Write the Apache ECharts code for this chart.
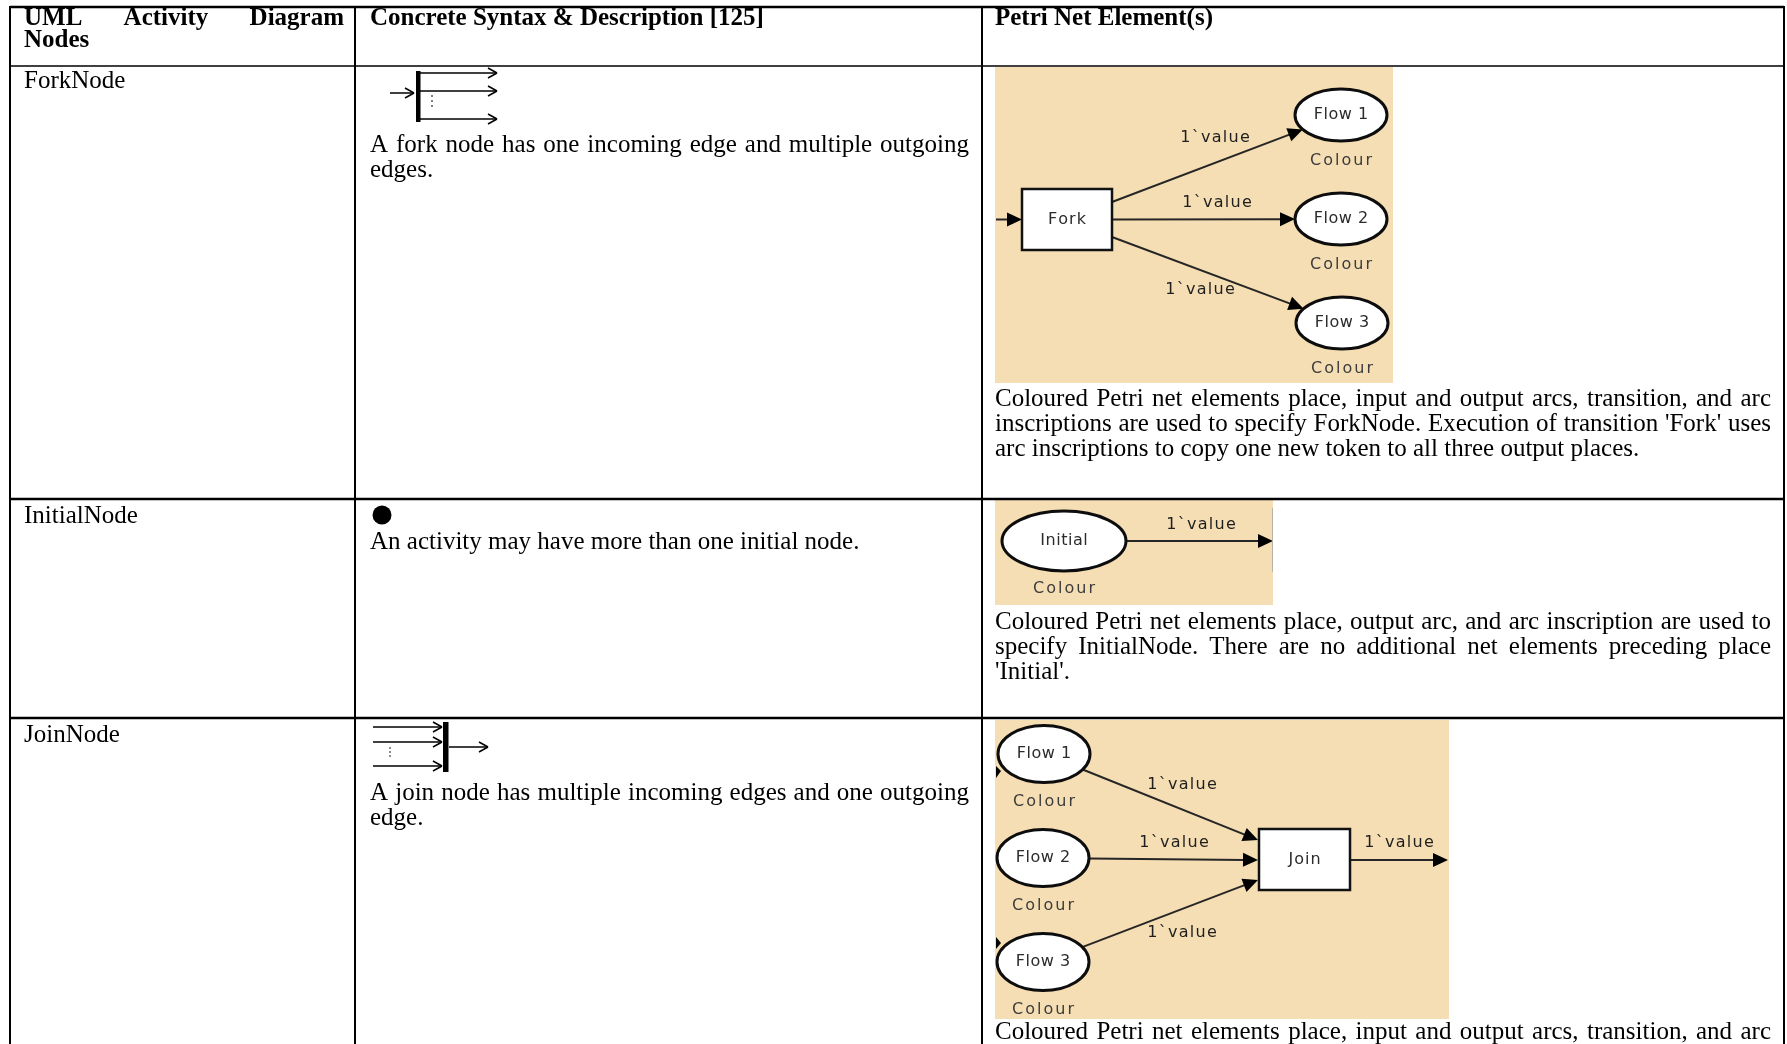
<!DOCTYPE html>
<html>
<head>
<meta charset="utf-8">
<script src="https://cdn.jsdelivr.net/npm/echarts@6/dist/echarts.min.js"></script>
<style>
html,body{margin:0;padding:0;background:#ffffff;}
#chart{width:1787px;height:1044px;}
</style>
</head>
<body>
<div id="chart"></div>
<script>
// ================= DATA (texts & labels) =================
const columnHeaders = [
  ['UML Activity Diagram', 'Nodes'],
  ['Concrete Syntax & Description [125]'],
  ['Petri Net Element(s)']
];
const nodeNames = ['ForkNode', 'InitialNode', 'JoinNode'];
const syntaxLines = [
  ['A fork node has one incoming edge and multiple outgoing', 'edges.'],
  ['An activity may have more than one initial node.'],
  ['A join node has multiple incoming edges and one outgoing', 'edge.']
];
const petriLines = [
  ['Coloured Petri net elements place, input and output arcs, transition, and arc',
   "inscriptions are used to specify ForkNode. Execution of transition 'Fork' uses",
   'arc inscriptions to copy one new token to all three output places.'],
  ['Coloured Petri net elements place, output arc, and arc inscription are used to',
   'specify InitialNode. There are no additional net elements preceding place',
   "'Initial'."],
  ['Coloured Petri net elements place, input and output arcs, transition, and arc']
];
// the third paragraph continues below the visible area
const petriParagraphCut = [false, false, true];
const forkOutputPlaces = ['Flow 1', 'Flow 2', 'Flow 3'];
const joinInputPlaces = ['Flow 1', 'Flow 2', 'Flow 3'];
const initialPlaceName = 'Initial';
const forkTransitionName = 'Fork';
const joinTransitionName = 'Join';
const colourSetName = 'Colour';
const arcInscription = '1`value';

// ================= LAYOUT & STYLE =================
const W = 1787, H = 1044;
const FONT_HEAD = 'bold 25px "Liberation Serif", "Times New Roman", serif';
const FONT_BODY = '25px "Liberation Serif", "Times New Roman", serif';
const FONT_NET = '16px "DejaVu Sans", "Verdana", sans-serif';
const BEIGE = '#F5DEB3';

const layout = {
  colX: [10, 355, 982, 1784],
  topY: 7, headY: 66, rowY: [499, 718],
  textX: [[24, 344], [370, 969], [995, 1771]],
  lineH: 25,
  headTextY: 19,
  headLineH: 22,
  nameY: [81, 516, 735],
  syntaxY: [145, 542, 793],
  petriY: [399, 622, 1032],
  beige: [[995, 67, 398, 316], [995, 500, 278, 105], [995, 720, 454, 299]]
};

// ================= PRIMITIVE BUILDERS =================
const prims = [];
const mctx = document.createElement('canvas').getContext('2d');
function measure(s, font) { mctx.font = font; return mctx.measureText(s).width; }

function line(x1, y1, x2, y2, w, stroke, cap) { prims.push({t: 'line', x1, y1, x2, y2, w: w || 1, stroke: stroke || '#000', cap: cap || 'butt'}); }
function rect(x, y, wd, ht, fill, stroke, w) { prims.push({t: 'rect', x, y, wd, ht, fill: fill || 'none', stroke: stroke || 'none', w: w || 0}); }
function ellipse(cx, cy, rx, ry, fill, stroke, w) { prims.push({t: 'ellipse', cx, cy, rx, ry, fill, stroke, w}); }
function circle(cx, cy, r, fill) { prims.push({t: 'circle', cx, cy, r, fill}); }
function poly(points, fill) { prims.push({t: 'poly', points, fill}); }
function text(s, x, y, font, fill, align) { prims.push({t: 'text', s, x, y, font, fill: fill || '#000', align: align || 'left'}); }

function justifiedLine(str, x0, x1, y, font) {
  const words = str.split(' ');
  const ws = words.map(w => measure(w, font));
  const total = ws.reduce((a, b) => a + b, 0);
  const gap = (x1 - x0 - total) / (words.length - 1);
  let x = x0;
  words.forEach((w, i) => { text(w, x, y, font); x += ws[i] + gap; });
}
function paragraph(lines, x0, x1, y0, font, cut) {
  lines.forEach((str, li) => {
    const y = y0 + li * layout.lineH;
    const justify = cut || li < lines.length - 1;
    if (justify) justifiedLine(str, x0, x1, y, font); else text(str, x0, y, font);
  });
}
function spaced(s, cx, cy, font, spacing, fill) {
  const chars = s.split('');
  const ws = chars.map(ch => measure(ch, font));
  const total = ws.reduce((a, b) => a + b, 0) + spacing * (chars.length - 1);
  let x = cx - total / 2;
  chars.forEach((ch, i) => { if (ch !== ' ') text(ch, x, cy, font, fill); x += ws[i] + spacing; });
}
// filled arrow (Petri arcs)
function arc(x1, y1, x2, y2) {
  const dx = x2 - x1, dy = y2 - y1, len = Math.hypot(dx, dy);
  const ux = dx / len, uy = dy / len, px = -uy, py = ux;
  const L = 15, hw = 7;
  line(x1, y1, x2 - ux * (L - 2), y2 - uy * (L - 2), 2, '#262626');
  poly([[x2, y2], [x2 - ux * L + px * hw, y2 - uy * L + py * hw], [x2 - ux * L - px * hw, y2 - uy * L - py * hw]], '#000');
}
// open chevron arrow (UML icons)
function chevron(tx, ty, dir) {
  line(tx, ty, tx - 9 * dir, ty - 5, 1.5, '#000');
  line(tx, ty, tx - 9 * dir, ty + 5, 1.5, '#000');
}
function ellipseEdge(cx, cy, rx, ry, tx, ty) {
  const dx = tx - cx, dy = ty - cy;
  const s = 1 / Math.sqrt((dx / rx) * (dx / rx) + (dy / ry) * (dy / ry));
  return [cx + dx * s, cy + dy * s];
}
function place(name, cx, cy, rx, ry, colourY) {
  ellipse(cx, cy, rx, ry, '#ffffff', '#0d0d0d', 3);
  spaced(name, cx, cy, FONT_NET, 0.5, '#2b2b2b');
  spaced(colourSetName, cx, colourY, FONT_NET, 2, '#3c3c3c');
}
function transition(name, x, y, wd, ht) {
  rect(x, y, wd, ht, '#ffffff', '#111111', 2.5);
  spaced(name, x + wd / 2, y + ht / 2, FONT_NET, 1, '#2b2b2b');
}

// ================= BUILD TABLE =================
layout.beige.forEach(b => rect(b[0], b[1], b[2], b[3], BEIGE));

const bottom = H + 2;
line(layout.colX[0], layout.topY, layout.colX[3], layout.topY, 2.5);
line(layout.colX[0], layout.headY, layout.colX[3], layout.headY, 1.6);
layout.rowY.forEach(y => line(layout.colX[0], y, layout.colX[3], y, 2.6));
layout.colX.forEach(x => line(x, layout.topY - 1, x, bottom, 2));

// header texts
columnHeaders.forEach((lines, ci) => {
  const [x0, x1] = layout.textX[ci];
  lines.forEach((str, li) => {
    const y = layout.headTextY + li * layout.headLineH;
    if (li < lines.length - 1) justifiedLine(str, x0, x1, y, FONT_HEAD);
    else text(str, x0, y, FONT_HEAD);
  });
});

// row texts
nodeNames.forEach((n, i) => text(n, layout.textX[0][0], layout.nameY[i], FONT_BODY));
syntaxLines.forEach((lines, i) => paragraph(lines, layout.textX[1][0], layout.textX[1][1], layout.syntaxY[i], FONT_BODY, false));
petriLines.forEach((lines, i) => paragraph(lines, layout.textX[2][0], layout.textX[2][1], layout.petriY[i], FONT_BODY, petriParagraphCut[i]));

// ---- UML fork icon ----
line(390, 93, 414, 93, 1.5); chevron(414, 93, 1);
rect(416, 71, 4.5, 51, '#000');
[73, 91, 119].forEach(y => { line(420, y, 497, y, 1.5); chevron(497, y, 1); });
[96, 101, 106].forEach(y => circle(432, y, 1, '#555'));

// ---- UML initial node ----
circle(382, 515, 9.5, '#000');

// ---- UML join icon ----
[727, 742, 766].forEach(y => { line(373, y, 442, y, 1.5); chevron(442, y, 1); });
rect(443, 722, 5.5, 50, '#000');
line(449, 747, 487, 747, 1.5); chevron(488, 747, 1);
[748, 752, 756].forEach(y => circle(390, y, 0.9, '#555'));

// ---- Petri: Fork ----
const forkT = {x: 1022, y: 189, w: 90, h: 61};
const forkP = [[1341, 115], [1341, 219], [1342, 323]];
const forkRx = 46, forkRy = 26;
arc(996, 219.5, forkT.x, 219.5);
const forkStarts = [202, 219.5, 237];
forkP.forEach((c, i) => {
  const e = ellipseEdge(c[0], c[1], forkRx, forkRy, forkT.x + forkT.w, forkStarts[i]);
  arc(forkT.x + forkT.w, forkStarts[i], e[0], e[1]);
});
transition(forkTransitionName, forkT.x, forkT.y, forkT.w, forkT.h);
forkOutputPlaces.forEach((n, i) => place(n, forkP[i][0], forkP[i][1], forkRx, forkRy, forkP[i][1] + 46));
[[1215, 138], [1217, 203], [1200, 290]].forEach(p => spaced(arcInscription, p[0], p[1], FONT_NET, 1.3, '#1f1f1f'));

// ---- Petri: Initial ----
const initP = [1064, 541], initRx = 62, initRy = 30;
arc(initP[0] + initRx, 541, 1273, 541);
place(initialPlaceName, initP[0], initP[1], initRx, initRy, 589);
spaced(arcInscription, 1201, 525, FONT_NET, 1.3, '#1f1f1f');
line(1272.5, 508, 1272.5, 572, 1, '#b9b2a6');

// ---- Petri: Join ----
const joinT = {x: 1259, y: 829, w: 91, h: 61};
const joinP = [[1044, 754], [1043, 858], [1043, 962]];
const joinRx = 46, joinRy = 28.5;
const joinEnds = [840, 860, 880];
joinP.forEach((c, i) => {
  const s = ellipseEdge(c[0], c[1], joinRx, joinRy, joinT.x, joinEnds[i]);
  arc(s[0], s[1], joinT.x - 1, joinEnds[i]);
});
arc(joinT.x + joinT.w, 860, 1448, 860);
poly([[1001, 771], [996, 766], [996, 778]], '#000');
poly([[1001, 943], [996, 937], [996, 949]], '#000');
transition(joinTransitionName, joinT.x, joinT.y, joinT.w, joinT.h);
joinInputPlaces.forEach((n, i) => place(n, joinP[i][0], joinP[i][1], joinRx, joinRy, joinP[i][1] + 48));
[[1182, 785], [1174, 843], [1182, 933], [1399, 843]].forEach(p => spaced(arcInscription, p[0], p[1], FONT_NET, 1.3, '#1f1f1f'));

// ================= ECHARTS =================
function renderItem(params, api) {
  const p = prims[params.dataIndex];
  const c = (x, y) => api.coord([x, y]);
  if (p.t === 'line') {
    const a = c(p.x1, p.y1), b = c(p.x2, p.y2);
    return {type: 'line', shape: {x1: a[0], y1: a[1], x2: b[0], y2: b[1]}, style: {stroke: p.stroke, lineWidth: p.w, lineCap: p.cap}};
  }
  if (p.t === 'rect') {
    const a = c(p.x, p.y), b = c(p.x + p.wd, p.y + p.ht);
    return {type: 'rect', shape: {x: a[0], y: a[1], width: b[0] - a[0], height: b[1] - a[1]}, style: {fill: p.fill, stroke: p.stroke, lineWidth: p.w}};
  }
  if (p.t === 'ellipse') {
    const a = c(p.cx, p.cy), b = c(p.cx + p.rx, p.cy + p.ry);
    return {type: 'ellipse', shape: {cx: a[0], cy: a[1], rx: b[0] - a[0], ry: b[1] - a[1]}, style: {fill: p.fill, stroke: p.stroke, lineWidth: p.w}};
  }
  if (p.t === 'circle') {
    const a = c(p.cx, p.cy), b = c(p.cx + p.r, p.cy);
    return {type: 'circle', shape: {cx: a[0], cy: a[1], r: b[0] - a[0]}, style: {fill: p.fill}};
  }
  if (p.t === 'poly') {
    return {type: 'polygon', shape: {points: p.points.map(q => c(q[0], q[1]))}, style: {fill: p.fill}};
  }
  const a = c(p.x, p.y);
  return {type: 'text', x: a[0], y: a[1], style: {text: p.s, font: p.font, fill: p.fill, textAlign: p.align, textVerticalAlign: 'middle'}};
}

const chart = echarts.init(document.getElementById('chart'), null, {renderer: 'canvas'});
chart.setOption({
  animation: false,
  backgroundColor: '#ffffff',
  grid: {left: 0, right: 0, top: 0, bottom: 0},
  xAxis: {type: 'value', min: 0, max: W, show: false},
  yAxis: {type: 'value', min: 0, max: H, inverse: true, show: false},
  series: [{
    type: 'custom',
    silent: true,
    clip: false,
    renderItem: renderItem,
    encode: {x: 0, y: 1},
    data: prims.map(p => [p.x !== undefined ? p.x : (p.cx !== undefined ? p.cx : (p.x1 !== undefined ? p.x1 : 0)),
                          p.y !== undefined ? p.y : (p.cy !== undefined ? p.cy : (p.y1 !== undefined ? p.y1 : 0))])
  }]
});
</script>
</body>
</html>
